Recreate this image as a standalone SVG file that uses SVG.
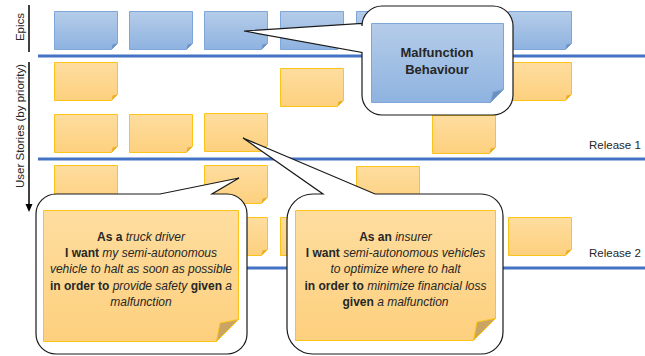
<svg xmlns="http://www.w3.org/2000/svg" xmlns:xlink="http://www.w3.org/1999/xlink" width="645" height="356" viewBox="0 0 645 356">
<style>
.lbl{font-family:"Liberation Sans",Arial,sans-serif;fill:#262626}
.ax{font-size:11.5px}
.ct{font-size:12px;text-anchor:middle}
.b{font-weight:bold}
.i{font-style:italic}
.blue-line{stroke:#4472c4;stroke-width:3}
.callout{fill:#fff;stroke:#1a1a1a;stroke-width:1.2;stroke-linejoin:miter}
.bn{fill:url(#gb);stroke:#7ea6d8;stroke-width:1}
.on{fill:url(#go);stroke:#fcc419;stroke-width:1}
.bf{fill:#6a92c6}
.of{fill:#e9ac2a}
.bigf{fill:#c9a462;stroke:#fcc419;stroke-width:1}
.bigbf{fill:#6a8fc0;stroke:#7ea6d8;stroke-width:1}
</style>
<defs>
<linearGradient id="gb" x1="0" y1="0" x2="0" y2="1"><stop offset="0" stop-color="#b5cce9"/><stop offset="1" stop-color="#8eb3e0"/></linearGradient>
<linearGradient id="go" x1="0" y1="0" x2="0" y2="1"><stop offset="0" stop-color="#fedd9f"/><stop offset="1" stop-color="#fdd07e"/></linearGradient>
<g id="bnote"><path class="bn" d="M0.5,0.5 H63.5 V32.5 L57.5,38.5 H0.5 Z"/><path class="bf" d="M63.5,32.5 L57.5,38.5 L58.6,33.6 Z"/></g>
<g id="onote"><path class="on" d="M0.5,0.5 H63.5 V32.5 L57.5,38.5 H0.5 Z"/><path class="of" d="M63.5,32.5 L57.5,38.5 L58.6,33.6 Z"/></g>
</defs>

<g id="axes">
<line x1="29" y1="5" x2="29" y2="52" stroke="#000" stroke-width="1.5"/>
<text class="lbl ax" transform="translate(24,27) rotate(-90)" text-anchor="middle">Epics</text>
<line x1="29" y1="62" x2="29" y2="205" stroke="#000" stroke-width="1.5"/>
<polygon points="25.5,204 32.5,204 29,212" fill="#000"/>
<text class="lbl ax" transform="translate(24,126) rotate(-90)" text-anchor="middle">User Stories (by priority)</text>
</g>

<g id="release-lines">
<line class="blue-line" x1="38" y1="56" x2="645" y2="56"/>
<line class="blue-line" x1="38" y1="159" x2="645" y2="159"/>
<line class="blue-line" x1="38" y1="268" x2="645" y2="268"/>
<text class="lbl ax" x="589" y="149">Release 1</text>
<text class="lbl ax" x="589" y="257">Release 2</text>
</g>

<g id="epics">
<g id="epic1"><use href="#bnote" x="54" y="11"/></g>
<g id="epic2"><use href="#bnote" x="129" y="11"/></g>
<g id="epic3"><use href="#bnote" x="204" y="11"/></g>
<g id="epic4"><use href="#bnote" x="280" y="11"/></g>
<g id="epic5"><use href="#bnote" x="356" y="11"/></g>
<g id="epic7"><use href="#bnote" x="508" y="11"/></g>
</g>

<g id="stories">
<g id="sA1"><use href="#onote" x="54" y="62"/></g>
<g id="sA4"><use href="#onote" x="280" y="68"/></g>
<g id="sA7"><use href="#onote" x="508" y="62"/></g>
<g id="sB1"><use href="#onote" x="54" y="114"/></g>
<g id="sB2"><use href="#onote" x="129" y="114"/></g>
<g id="sB3"><use href="#onote" x="204" y="113"/></g>
<g id="sB6"><use href="#onote" x="432" y="115"/></g>
<g id="sC1"><use href="#onote" x="54" y="165"/></g>
<g id="sC3"><use href="#onote" x="204" y="165"/></g>
<g id="sC5"><use href="#onote" x="356" y="166"/></g>
<g id="sD3"><use href="#onote" x="204" y="217"/></g>
<g id="sD4"><use href="#onote" x="280" y="217"/></g>
<g id="sD7"><use href="#onote" x="508" y="217"/></g>
</g>

<g id="connectors">
<path class="callout" d="M382,6 H493 A20,20 0 0 1 513,26 V95 A20,20 0 0 1 493,115 H382 A20,20 0 0 1 362,95 V52.5 L244,31 L362,23.5 V26 A20,20 0 0 1 382,6 Z"/>
<path class="callout" d="M56,194 H160 L239,178 L212,194 H227 A20,20 0 0 1 247,214 V334 A20,20 0 0 1 227,354 H56 A20,20 0 0 1 36,334 V214 A20,20 0 0 1 56,194 Z"/>
<path class="callout" d="M313,194 H323 L243,138 L375,194 H481 A22,22 0 0 1 503,216 V332 A22,22 0 0 1 481,354 H313 A26,26 0 0 1 287,328 V220 A26,26 0 0 1 313,194 Z"/>
</g>

<g id="epic-malfunction">
<path class="bn" d="M371.5,23.5 H503.5 V89.5 L490.5,102.5 H371.5 Z"/>
<path class="bigbf" d="M503.5,89.5 L490.5,102.5 L493,92 Z"/>
<text class="lbl b" x="437" y="57" font-size="13" text-anchor="middle">Malfunction</text>
<text class="lbl b" x="437" y="74" font-size="13" text-anchor="middle">Behaviour</text>
</g>

<g id="story-truck-driver">
<path class="on" d="M43.5,210.5 H238.5 V319.5 L216.5,341.5 H43.5 Z"/>
<path class="bigf" d="M238.5,319.5 L216.5,341.5 L220,323 Z"/>
<text class="lbl ct" x="141" y="241"><tspan class="b">As a </tspan><tspan class="i">truck driver</tspan></text>
<text class="lbl ct" x="141" y="257"><tspan class="b">I want </tspan><tspan class="i">my semi-autonomous</tspan></text>
<text class="lbl ct i" x="141" y="273">vehicle to halt as soon as possible</text>
<text class="lbl ct" x="141" y="290"><tspan class="b">in order to </tspan><tspan class="i">provide safety </tspan><tspan class="b">given </tspan><tspan class="i">a</tspan></text>
<text class="lbl ct i" x="141" y="306">malfunction</text>
</g>

<g id="story-insurer">
<path class="on" d="M295.5,210.5 H495.5 V318.5 L473.5,340.5 H295.5 Z"/>
<path class="bigf" d="M495.5,318.5 L473.5,340.5 L477,322 Z"/>
<text class="lbl ct" x="395.5" y="241"><tspan class="b">As an </tspan><tspan class="i">insurer</tspan></text>
<text class="lbl ct" x="395.5" y="257"><tspan class="b">I want </tspan><tspan class="i">semi-autonomous vehicles</tspan></text>
<text class="lbl ct i" x="395.5" y="273">to optimize where to halt</text>
<text class="lbl ct" x="395.5" y="290"><tspan class="b">in order to </tspan><tspan class="i">minimize financial loss</tspan></text>
<text class="lbl ct" x="395.5" y="306"><tspan class="b">given </tspan><tspan class="i">a malfunction</tspan></text>
</g>
</svg>
